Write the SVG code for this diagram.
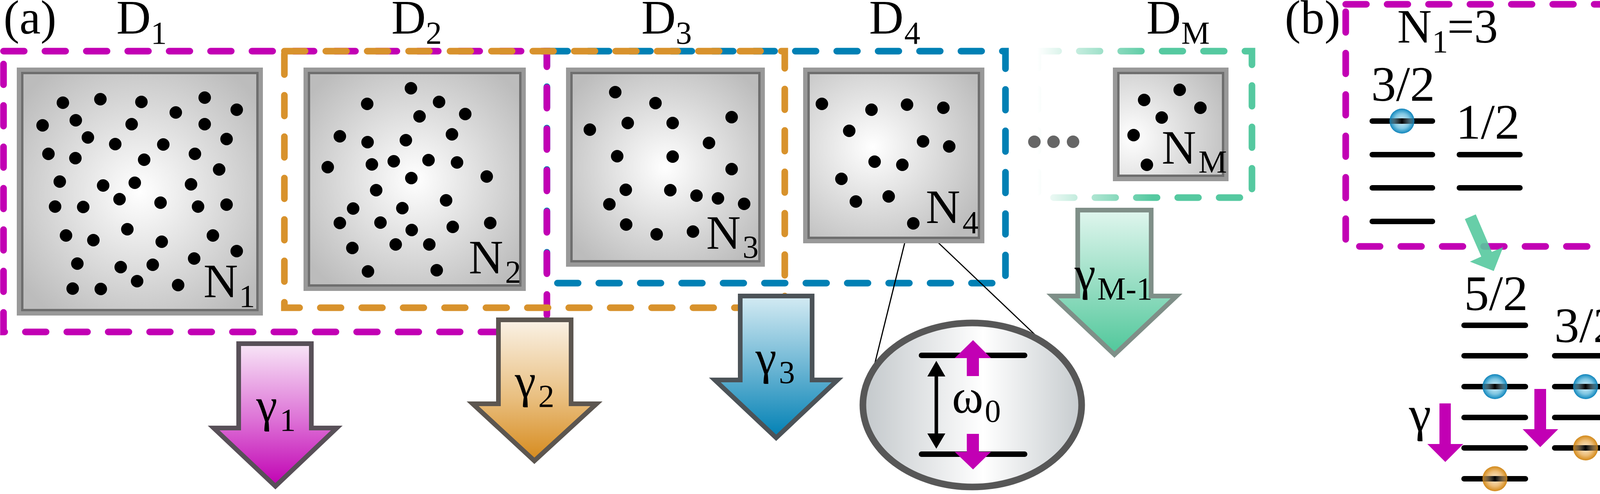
<svg xmlns="http://www.w3.org/2000/svg" width="4675" height="1265" viewBox="0 0 4675 1265" font-family="Liberation Serif, DejaVu Serif, serif">
<style>
text{font-family:"Liberation Serif","DejaVu Serif",serif;fill:#000}
.big{font-size:122px}
.sub{font-size:82px}
.lv{font-size:128px}
.dash{fill:none;stroke-width:17;stroke-linecap:round;stroke-dasharray:53 53}
.dot{fill:#000}
.boxo{stroke:#999;stroke-width:16}
.boxi{fill:none;stroke:#6e6e6e;stroke-width:6}
.lvl{stroke:#000;stroke-width:14;stroke-linecap:round}
.mg{fill:#C200B4}
</style>
<defs>
<radialGradient id="gBox" cx="0.5" cy="0.5" r="0.62"><stop offset="0" stop-color="#ffffff"/><stop offset="1" stop-color="#bcbcbc"/></radialGradient>
<radialGradient id="gBox4" cx="0.38" cy="0.45" r="0.7"><stop offset="0" stop-color="#ffffff"/><stop offset="1" stop-color="#bcbcbc"/></radialGradient>
<radialGradient id="gBoxM" cx="0.15" cy="0.62" r="0.95"><stop offset="0" stop-color="#ffffff"/><stop offset="1" stop-color="#bcbcbc"/></radialGradient>
<linearGradient id="gEll" x1="0" y1="0" x2="1" y2="0"><stop offset="0" stop-color="#c3c8cb"/><stop offset="0.55" stop-color="#ffffff"/><stop offset="1" stop-color="#c6cbce"/></linearGradient>
<linearGradient id="gA1" x1="0" y1="0" x2="0" y2="1"><stop offset="0" stop-color="#f8e6f7"/><stop offset="0.55" stop-color="#dc6ed5"/><stop offset="1" stop-color="#c000b2"/></linearGradient>
<linearGradient id="gA2" x1="0" y1="0" x2="0" y2="1"><stop offset="0" stop-color="#faf2e6"/><stop offset="0.55" stop-color="#e9bf80"/><stop offset="1" stop-color="#d68a1c"/></linearGradient>
<linearGradient id="gA3" x1="0" y1="0" x2="0" y2="1"><stop offset="0" stop-color="#d4ebf3"/><stop offset="0.5" stop-color="#6db6d4"/><stop offset="1" stop-color="#0080b4"/></linearGradient>
<linearGradient id="gAM" x1="0" y1="0" x2="0" y2="1"><stop offset="0" stop-color="#e0f6ee"/><stop offset="0.55" stop-color="#92dcc0"/><stop offset="1" stop-color="#4fc79a"/></linearGradient>
<linearGradient id="gGreenDash" gradientUnits="userSpaceOnUse" x1="2655" y1="0" x2="2950" y2="0"><stop offset="0" stop-color="#55C9A0" stop-opacity="0"/><stop offset="1" stop-color="#55C9A0" stop-opacity="1"/></linearGradient>
<radialGradient id="gBlue" cx="0.5" cy="0.5" r="0.5"><stop offset="0" stop-color="#d8f1f9"/><stop offset="0.6" stop-color="#7fc6e2"/><stop offset="0.9" stop-color="#2a97c7"/><stop offset="1" stop-color="#1482b8"/></radialGradient>
<radialGradient id="gOrange" cx="0.5" cy="0.5" r="0.5"><stop offset="0" stop-color="#fcecd2"/><stop offset="0.6" stop-color="#ecbd78"/><stop offset="0.9" stop-color="#da962f"/><stop offset="1" stop-color="#d08a20"/></radialGradient>
<linearGradient id="gBand" x1="0" y1="0" x2="1" y2="0"><stop offset="0" stop-color="#000" stop-opacity="0.15"/><stop offset="0.5" stop-color="#000" stop-opacity="1"/><stop offset="1" stop-color="#000" stop-opacity="0.15"/></linearGradient>
<g id="ballB"><circle r="32" fill="url(#gBlue)"/><rect x="-32" y="-7" width="64" height="14" fill="url(#gBand)"/></g>
<g id="ballO"><circle r="32" fill="url(#gOrange)"/><rect x="-32" y="-7" width="64" height="14" fill="url(#gBand)"/></g>
</defs>
<rect x="0" y="0" width="4675" height="1265" fill="#ffffff"/>

<g id="connectors">
<path class="dash" stroke="#0080B4" d="M1400,131 H2574 V725 H1400 Z"/>
<path class="dash" stroke="#C200B4" d="M9,131 H1400 V850 H9 Z"/>
<path class="dash" stroke="#D8922C" d="M728,131 H2009 V788 H728 Z"/>
<path class="dash" stroke="url(#gGreenDash)" d="M2657,131 H3205 V506 H2657 Z"/>
<line x1="2326" y1="582" x2="2237" y2="941" stroke="#000" stroke-width="3"/>
<line x1="2350" y1="572" x2="2661" y2="868" stroke="#000" stroke-width="3"/>
</g>

<g id="label-a"><text class="big" x="9" y="86">(a)</text></g>
<g id="label-D1"><text class="big" x="298" y="86">D</text><text class="sub" x="386" y="112">1</text></g>
<g id="label-D2"><text class="big" x="1002" y="86">D</text><text class="sub" x="1090" y="112">2</text></g>
<g id="label-D3"><text class="big" x="1642" y="86">D</text><text class="sub" x="1730" y="112">3</text></g>
<g id="label-D4"><text class="big" x="2225" y="86">D</text><text class="sub" x="2315" y="112">4</text></g>
<g id="label-DM"><text class="big" x="2935" y="86">D</text><text class="sub" x="3024" y="112">M</text></g>

<g id="box1">
<rect class="boxo" x="51" y="181" width="614" height="619" fill="url(#gBox)"/>
<rect class="boxi" x="57" y="187" width="602" height="607"/>
<g class="dot">
<circle cx="161" cy="263" r="16"/><circle cx="257" cy="254" r="16"/><circle cx="362" cy="261" r="16"/><circle cx="524" cy="250" r="16"/><circle cx="606" cy="281" r="16"/><circle cx="450" cy="288" r="16"/><circle cx="109" cy="321" r="16"/><circle cx="194" cy="308" r="16"/><circle cx="337" cy="318" r="16"/><circle cx="524" cy="318" r="16"/><circle cx="580" cy="356" r="16"/><circle cx="225" cy="352" r="16"/><circle cx="295" cy="369" r="16"/><circle cx="418" cy="370" r="16"/><circle cx="124" cy="394" r="16"/><circle cx="193" cy="405" r="16"/><circle cx="369" cy="409" r="16"/><circle cx="499" cy="394" r="16"/><circle cx="561" cy="434" r="16"/><circle cx="153" cy="465" r="16"/><circle cx="264" cy="475" r="16"/><circle cx="345" cy="468" r="16"/><circle cx="489" cy="472" r="16"/><circle cx="306" cy="510" r="16"/><circle cx="141" cy="529" r="16"/><circle cx="213" cy="530" r="16"/><circle cx="411" cy="519" r="16"/><circle cx="507" cy="529" r="16"/><circle cx="580" cy="524" r="16"/><circle cx="169" cy="603" r="16"/><circle cx="239" cy="615" r="16"/><circle cx="326" cy="587" r="16"/><circle cx="414" cy="619" r="16"/><circle cx="545" cy="603" r="16"/><circle cx="606" cy="643" r="16"/><circle cx="198" cy="675" r="16"/><circle cx="309" cy="684" r="16"/><circle cx="391" cy="678" r="16"/><circle cx="497" cy="662" r="16"/><circle cx="186" cy="739" r="16"/><circle cx="258" cy="740" r="16"/><circle cx="351" cy="720" r="16"/><circle cx="456" cy="730" r="16"/>
</g>
<text class="big" x="521" y="761">N</text><text class="sub" x="612" y="786">1</text>
</g>

<g id="box2">
<rect class="boxo" x="785" y="181" width="553" height="556" fill="url(#gBox)"/>
<rect class="boxi" x="791" y="187" width="541" height="544"/>
<g class="dot">
<circle cx="1052" cy="226" r="16"/><circle cx="940" cy="266" r="16"/><circle cx="1124" cy="261" r="16"/><circle cx="1074" cy="298" r="16"/><circle cx="1191" cy="292" r="16"/><circle cx="870" cy="349" r="16"/><circle cx="941" cy="364" r="16"/><circle cx="1039" cy="359" r="16"/><circle cx="1157" cy="344" r="16"/><circle cx="839" cy="428" r="16"/><circle cx="952" cy="421" r="16"/><circle cx="1008" cy="413" r="16"/><circle cx="1097" cy="410" r="16"/><circle cx="1170" cy="416" r="16"/><circle cx="1053" cy="456" r="16"/><circle cx="1246" cy="452" r="16"/><circle cx="963" cy="487" r="16"/><circle cx="1142" cy="513" r="16"/><circle cx="904" cy="534" r="16"/><circle cx="1030" cy="533" r="16"/><circle cx="870" cy="571" r="16"/><circle cx="974" cy="570" r="16"/><circle cx="1054" cy="589" r="16"/><circle cx="1159" cy="581" r="16"/><circle cx="1255" cy="571" r="16"/><circle cx="902" cy="635" r="16"/><circle cx="1013" cy="626" r="16"/><circle cx="1099" cy="626" r="16"/><circle cx="942" cy="695" r="16"/><circle cx="1118" cy="692" r="16"/>
</g>
<text class="big" x="1200" y="700">N</text><text class="sub" x="1293" y="724">2</text>
</g>

<g id="box3">
<rect class="boxo" x="1457" y="181" width="493" height="494" fill="url(#gBox)"/>
<rect class="boxi" x="1463" y="187" width="481" height="482"/>
<g class="dot">
<circle cx="1575" cy="236" r="16"/><circle cx="1678" cy="264" r="16"/><circle cx="1510" cy="332" r="16"/><circle cx="1607" cy="315" r="16"/><circle cx="1722" cy="315" r="16"/><circle cx="1873" cy="300" r="16"/><circle cx="1815" cy="366" r="16"/><circle cx="1580" cy="400" r="16"/><circle cx="1722" cy="401" r="16"/><circle cx="1873" cy="433" r="16"/><circle cx="1602" cy="486" r="16"/><circle cx="1716" cy="487" r="16"/><circle cx="1783" cy="501" r="16"/><circle cx="1838" cy="508" r="16"/><circle cx="1905" cy="522" r="16"/><circle cx="1560" cy="523" r="16"/><circle cx="1603" cy="575" r="16"/><circle cx="1681" cy="600" r="16"/><circle cx="1774" cy="593" r="16"/>
</g>
<text class="big" x="1808" y="637">N</text><text class="sub" x="1901" y="660">3</text>
</g>

<g id="box4">
<rect class="boxo" x="2064" y="181" width="448" height="434" fill="url(#gBox4)"/>
<rect class="boxi" x="2070" y="187" width="436" height="422"/>
<g class="dot">
<circle cx="2104" cy="266" r="16"/><circle cx="2231" cy="281" r="16"/><circle cx="2322" cy="268" r="16"/><circle cx="2415" cy="276" r="16"/><circle cx="2174" cy="335" r="16"/><circle cx="2363" cy="362" r="16"/><circle cx="2430" cy="375" r="16"/><circle cx="2239" cy="414" r="16"/><circle cx="2310" cy="422" r="16"/><circle cx="2154" cy="458" r="16"/><circle cx="2191" cy="516" r="16"/><circle cx="2275" cy="503" r="16"/><circle cx="2338" cy="572" r="16"/>
</g>
<text class="big" x="2370" y="571">N</text><text class="sub" x="2464" y="597">4</text>
</g>

<g id="ellipsis" fill="#666">
<circle cx="2648" cy="363" r="16"/><circle cx="2697" cy="363" r="16"/><circle cx="2747" cy="363" r="16"/>
</g>

<g id="boxM">
<rect class="boxo" x="2857" y="181" width="280" height="275" fill="url(#gBoxM)"/>
<rect class="boxi" x="2863" y="187" width="268" height="263"/>
<g class="dot">
<circle cx="2929" cy="256" r="16"/><circle cx="3020" cy="230" r="16"/><circle cx="3073" cy="276" r="16"/><circle cx="2974" cy="301" r="16"/><circle cx="2902" cy="346" r="16"/><circle cx="2936" cy="422" r="16"/>
</g>
<text class="big" x="2974" y="419">N</text><text class="sub" x="3068" y="442">M</text>
</g>

<g id="arrow-g1">
<polygon points="611,880 797,880 797,1096 862,1096 705,1245 547,1096 611,1096" fill="url(#gA1)" stroke="#585058" stroke-width="12"/>
<text class="big" x="656" y="1079">γ</text><text class="sub" x="716" y="1103">1</text>
</g>
<g id="arrow-g2">
<polygon points="1276,819 1462,819 1462,1034 1527,1034 1368,1180 1210,1034 1276,1034" fill="url(#gA2)" stroke="#5c5650" stroke-width="12"/>
<text class="big" x="1318" y="1017">γ</text><text class="sub" x="1378" y="1042">2</text>
</g>
<g id="arrow-g3">
<polygon points="1895,758 2079,758 2079,973 2144,973 1987,1121 1830,973 1895,973" fill="url(#gA3)" stroke="#4c5358" stroke-width="12"/>
<text class="big" x="1934" y="957">γ</text><text class="sub" x="1994" y="981">3</text>
</g>
<g id="arrow-gM">
<polygon points="2759,538 2947,538 2947,758 3012,758 2853,908 2694,758 2759,758" fill="url(#gAM)" stroke="#7f8f88" stroke-width="12"/>
<text class="big" x="2751" y="742">γ</text><text class="sub" x="2809" y="767">M-1</text>
</g>

<g id="zoom-ellipse">
<ellipse cx="2489" cy="1037" rx="280" ry="210" fill="url(#gEll)" stroke="#575757" stroke-width="17"/>
<line class="lvl" x1="2359" y1="910" x2="2623" y2="910" stroke-width="13"/>
<line class="lvl" x1="2359" y1="1163" x2="2623" y2="1163" stroke-width="13"/>
<rect class="mg" x="2475" y="916" width="31" height="47"/>
<polygon class="mg" points="2444,917 2537,917 2491,871"/>
<rect class="mg" x="2475" y="1111" width="31" height="47"/>
<polygon class="mg" points="2444,1157 2537,1157 2491,1202"/>
<line x1="2397" y1="960" x2="2397" y2="1114" stroke="#000" stroke-width="9"/>
<polygon points="2397,924 2374,964 2420,964" fill="#000"/>
<polygon points="2397,1149 2374,1110 2420,1110" fill="#000"/>
<text class="big" x="2437" y="1057">ω</text><text class="sub" x="2521" y="1080">0</text>
</g>

<g id="panel-b">
<text class="big" x="3289" y="86">(b)</text>
<path class="dash" stroke="#C200B4" d="M3445,11 H4663 V631 H3445 Z"/>
<g id="group-N1">
<text class="big" x="3577" y="109">N</text><text class="sub" x="3666" y="134">1</text><text class="big" x="3705" y="109">=3</text>
<text class="lv" x="3510" y="258">3/2</text>
<text class="lv" x="3727" y="355">1/2</text>
<line class="lvl" x1="3513" y1="310" x2="3667" y2="310"/>
<line class="lvl" x1="3513" y1="396" x2="3667" y2="396"/>
<line class="lvl" x1="3513" y1="481" x2="3667" y2="481"/>
<line class="lvl" x1="3513" y1="567" x2="3667" y2="567"/>
<line class="lvl" x1="3736" y1="396" x2="3891" y2="396"/>
<line class="lvl" x1="3736" y1="481" x2="3891" y2="481"/>
<use href="#ballB" x="3589" y="310"/>
</g>
<g id="group-N2">
<text class="big" x="4280" y="109">N</text><text class="sub" x="4370" y="134">2</text><text class="big" x="4408" y="109">=2</text>
<text class="lv" x="4264" y="317">1</text>
<text class="lv" x="4486" y="404">0</text>
<line class="lvl" x1="4218" y1="353" x2="4374" y2="353"/>
<line class="lvl" x1="4218" y1="438" x2="4374" y2="438"/>
<line class="lvl" x1="4218" y1="524" x2="4374" y2="524"/>
<line class="lvl" x1="4442" y1="438" x2="4599" y2="438"/>
<use href="#ballB" x="4296" y="524"/>
</g>
<g id="combine-arrows" fill="#56C99E" fill-opacity="0.9">
<polygon points="3750,561 3778,549 3819,645 3848,633 3824,694 3763,670 3792,657"/>
<polygon points="4254,561 4226,549 4185,645 4156,633 4180,694 4241,670 4212,657"/>
</g>
<g id="group-combined">
<text class="lv" x="3748" y="794">5/2</text>
<text class="lv" x="3979" y="876">3/2</text>
<text class="lv" x="4211" y="931">1/2</text>
<line class="lvl" x1="3748" y1="833" x2="3905" y2="833"/>
<line class="lvl" x1="3748" y1="911" x2="3905" y2="911"/>
<line class="lvl" x1="3748" y1="990" x2="3905" y2="990"/>
<line class="lvl" x1="3748" y1="1069" x2="3905" y2="1069"/>
<line class="lvl" x1="3748" y1="1147" x2="3905" y2="1147"/>
<line class="lvl" x1="3748" y1="1226" x2="3905" y2="1226"/>
<line class="lvl" x1="3980" y1="911" x2="4137" y2="911"/>
<line class="lvl" x1="3980" y1="990" x2="4137" y2="990"/>
<line class="lvl" x1="3980" y1="1069" x2="4137" y2="1069"/>
<line class="lvl" x1="3980" y1="1147" x2="4137" y2="1147"/>
<line class="lvl" x1="4212" y1="990" x2="4367" y2="990"/>
<line class="lvl" x1="4212" y1="1069" x2="4367" y2="1069"/>
<use href="#ballB" x="3827" y="990"/>
<use href="#ballB" x="4059" y="990"/>
<use href="#ballB" x="4289" y="990"/>
<use href="#ballO" x="4289" y="1069"/>
<use href="#ballO" x="4059" y="1147"/>
<use href="#ballO" x="3827" y="1226"/>
<g class="mg">
<rect x="3685" y="1033" width="29" height="105"/><polygon points="3654,1137 3746,1137 3700,1183"/>
<rect x="3928" y="996" width="30" height="104"/><polygon points="3898,1099 3989,1099 3943,1145"/>
<rect x="4160" y="966" width="30" height="104"/><polygon points="4129,1069 4221,1069 4175,1115"/>
</g>
<text class="lv" x="3607" y="1103">γ</text>
</g>
</g>
</svg>
